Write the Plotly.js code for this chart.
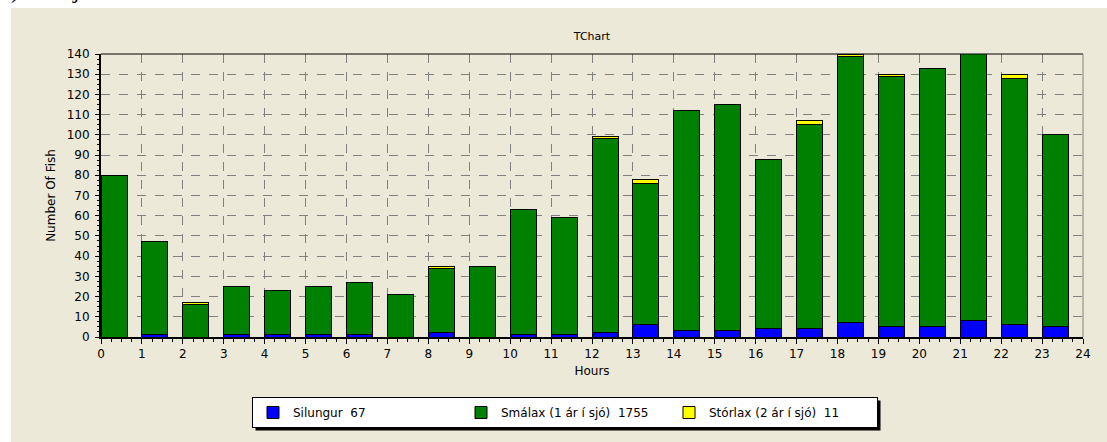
<!DOCTYPE html>
<html><head><meta charset="utf-8">
<script src="https://cdn.plot.ly/plotly-3.0.1.min.js"></script>
<style>html,body{margin:0;padding:0;background:#fff}#chart{width:1107px;height:442px}</style>
</head><body><div id="chart"></div>
<script>
const hours    = [0,1,2,3,4,5,6,7,8,9,10,11,12,13,14,15,16,17,18,19,20,21,22,23];
const silungur = [0,1,0,1,1,1,1,0,2,0,1,1,2,6,3,3,4,4,7,5,5,8,6,5];
const smalax   = [80,46,16,24,22,24,26,21,32,35,62,58,96,70,109,112,84,101,132,124,128,136,122,95];
const storlax  = [0,0,1,0,0,0,0,0,1,0,0,0,1,2,0,0,0,2,1,1,0,0,2,0];
const seriesNames  = ['Silungur', 'Smálax (1 ár í sjó)', 'Stórlax (2 ár í sjó)'];
const seriesColors = ['#0000FF', '#008000', '#FFFF00'];
const yTickVals = [0,10,20,30,40,50,60,70,80,90,100,110,120,130,140];
const xTickVals = [0,1,2,3,4,5,6,7,8,9,10,11,12,13,14,15,16,17,18,19,20,21,22,23,24];
const chartTitle = 'TChart';
const pageHeading = '2) Sveðjufoss';
const xTitle = 'Hours';
const yTitle = 'Number Of Fish';

const FONT = 'DejaVu Sans, Verdana, sans-serif';
const BEIGE = '#ECE9D8';
const sum = a => a.reduce((s, v) => s + v, 0);

const seriesValues = [silungur, smalax, storlax];
const traces = seriesValues.map((vals, i) => ({
  type: 'bar',
  x: hours,
  y: vals,
  name: seriesNames[i] + '\u00A0\u00A0' + sum(vals),
  offset: 0,
  width: 0.636,
  marker: {color: seriesColors[i], line: {color: '#000000', width: 1}},
  hoverinfo: 'skip'
}));

// plot area in pixels: left 101, right 1083, top 54, bottom 337
const L = 101, R = 1083, T = 54, B = 337;
const W = R - L, H = B - T;
const px = x => (x - L) / W;
const py = y => (B - y) / H;

const layout = {
  width: 1107, height: 442,
  margin: {l: L, r: 1107 - R, t: T, b: 442 - B, pad: 0},
  paper_bgcolor: '#FFFFFF',
  plot_bgcolor: BEIGE,
  barmode: 'stack',
  showlegend: true,
  font: {family: FONT, size: 12, color: '#000'},
  title: {text: chartTitle, font: {family: FONT, size: 11, color: '#000'},
          x: 0.5, xanchor: 'center', xref: 'paper', y: 1 - 36 / 442, yanchor: 'middle'},
  xaxis: {
    range: [0, 24], tickvals: xTickVals, ticktext: xTickVals.map(String),
    ticks: 'outside', ticklen: 5, tickcolor: '#000', tickwidth: 1,
    minor: {dtick: 0.25, ticks: 'outside', ticklen: 3, tickcolor: '#000', showgrid: false},
    showline: true, linecolor: '#000', linewidth: 2,
    showgrid: true, gridcolor: '#808080', griddash: 'dash', gridwidth: 1,
    zeroline: false, fixedrange: true,
    tickfont: {family: FONT, size: 12, color: '#000'},
    title: {text: xTitle, font: {family: FONT, size: 12, color: '#000'}, standoff: 6}
  },
  yaxis: {
    range: [0, 140], tickvals: yTickVals, ticktext: yTickVals.map(String),
    ticks: 'outside', ticklen: 4, tickcolor: '#000', tickwidth: 1,
    minor: {dtick: 2.5, ticks: 'outside', ticklen: 2, tickcolor: '#000', showgrid: false},
    showline: true, linecolor: '#000', linewidth: 2,
    showgrid: true, gridcolor: '#808080', griddash: 'dash', gridwidth: 1,
    zeroline: false, fixedrange: true,
    tickfont: {family: FONT, size: 12, color: '#000'},
    ticklabelstandoff: 3,
    title: {text: yTitle, font: {family: FONT, size: 12, color: '#000'}, standoff: 8}
  },
  legend: {
    orientation: 'h', x: px(252), xanchor: 'left', y: py(397), yanchor: 'top',
    bgcolor: '#FFFFFF', bordercolor: '#000000', borderwidth: 1,
    font: {family: FONT, size: 12, color: '#000'},
    entrywidth: 163, entrywidthmode: 'pixels', traceorder: 'normal',
    itemclick: false, itemdoubleclick: false
  },
  shapes: [
    {type: 'rect', xref: 'paper', yref: 'paper', layer: 'below',
     x0: px(11), x1: px(1110), y0: py(8), y1: py(445),
     fillcolor: BEIGE, line: {width: 0}},
    {type: 'line', xref: 'paper', yref: 'paper', x0: 0, x1: 1, y0: 1, y1: 1,
     line: {color: '#000', width: 1}},
    {type: 'line', xref: 'paper', yref: 'paper', x0: 1, x1: 1, y0: 0, y1: 1,
     line: {color: '#808080', width: 1}}
  ],
  annotations: [
    {text: pageHeading, xref: 'paper', yref: 'paper', x: px(-3), y: py(5),
     xanchor: 'left', yanchor: 'bottom', showarrow: false,
     font: {family: 'Liberation Serif, Times New Roman, serif', size: 24, color: '#000'}}
  ]
};

Plotly.newPlot('chart', traces, layout, {displayModeBar: false, staticPlot: true}).then(gd => {
  const bg = gd.querySelector('.legend .bg');
  if (!bg) return;
  const r = bg.getBoundingClientRect();
  const c = gd.getBoundingClientRect();
  const x0 = r.left - c.left, y0 = r.top - c.top, x1 = r.right - c.left, y1 = r.bottom - c.top;
  const shadow = {type: 'rect', xref: 'paper', yref: 'paper', layer: 'below',
    x0: px(x0 + 3), x1: px(x1 + 3), y0: py(y1 + 3), y1: py(y0 + 3),
    fillcolor: '#000000', line: {width: 0}};
  Plotly.relayout(gd, {shapes: layout.shapes.concat([shadow])});
});
</script>
</body></html>
